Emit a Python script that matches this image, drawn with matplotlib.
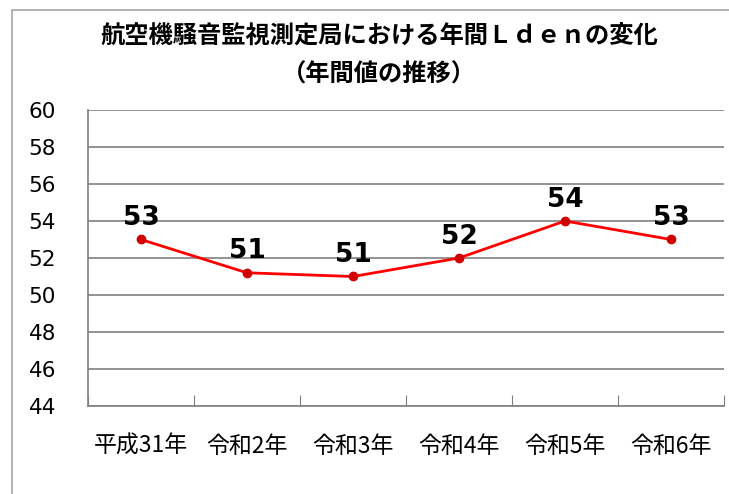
import matplotlib
matplotlib.use('Agg')
import matplotlib.pyplot as plt
from matplotlib.patches import Rectangle

# data
years = ['平成31年', '令和2年', '令和3年', '令和4年', '令和5年', '令和6年']
lden = [53.0, 51.2, 51.0, 52.0, 54.0, 53.0]
labels = ['53', '51', '51', '52', '54', '53']
yticks = [44, 46, 48, 50, 52, 54, 56, 58, 60]

jp = ['Noto Sans CJK JP', 'DejaVu Sans']

fig = plt.figure(figsize=(7.29, 4.94), dpi=100)

# chart area border
fig.patches.append(Rectangle((12 / 729, -0.1), 1.0, 1.1 - 10 / 494,
                             transform=fig.transFigure, fill=False,
                             edgecolor='#a6a6a6', linewidth=1.2))

ax = fig.add_axes([88 / 729, 1 - 406 / 494, (724 - 88) / 729, (406 - 110) / 494])

x = list(range(len(years)))
ax.plot(x, lden, color='#ff0000', linewidth=2, marker='o', markersize=6,
        markerfacecolor='#d00000', markeredgecolor='#d00000', zorder=3)

for xi, yi, lab in zip(x, lden, labels):
    ax.annotate(lab, (xi, yi), xytext=(0, 6), textcoords='offset points',
                ha='center', va='bottom', fontsize=19, fontweight='bold',
                family='DejaVu Sans')

ax.set_xlim(-0.5, len(years) - 0.5)
ax.set_ylim(44, 60)
ax.set_yticks(yticks)
ax.set_yticklabels([str(v) for v in yticks], fontsize=15.5, family='DejaVu Sans')
ax.tick_params(axis='y', length=0, pad=23)

ax.set_xticks([i + 0.5 for i in range(-1, len(years))], minor=False)
ax.set_xticklabels([])
ax.set_xticks(x, minor=True)
ax.set_xticklabels(years, minor=True, fontsize=16.5, family=jp)
ax.tick_params(axis='x', which='major', direction='in', length=8, color='#808080')
ax.tick_params(axis='x', which='minor', length=0, pad=21)

ax.grid(axis='y', color='#808080', linewidth=1.2)
ax.set_axisbelow(True)
for s in ['top', 'right']:
    ax.spines[s].set_visible(False)
ax.spines['left'].set_color('#808080')
ax.spines['bottom'].set_color('#808080')
ax.spines['left'].set_linewidth(1.2)
ax.spines['bottom'].set_linewidth(1.2)

fig.text(379 / 729, 1 - 37 / 494, '航空機騒音監視測定局における年間Ｌｄｅｎの変化',
         ha='center', va='center', fontsize=17.5, fontweight='bold', family=jp)
fig.text(379 / 729, 1 - 75 / 494, '（年間値の推移）',
         ha='center', va='center', fontsize=17.5, fontweight='bold', family=jp)

fig.savefig('out.png', dpi=100)
